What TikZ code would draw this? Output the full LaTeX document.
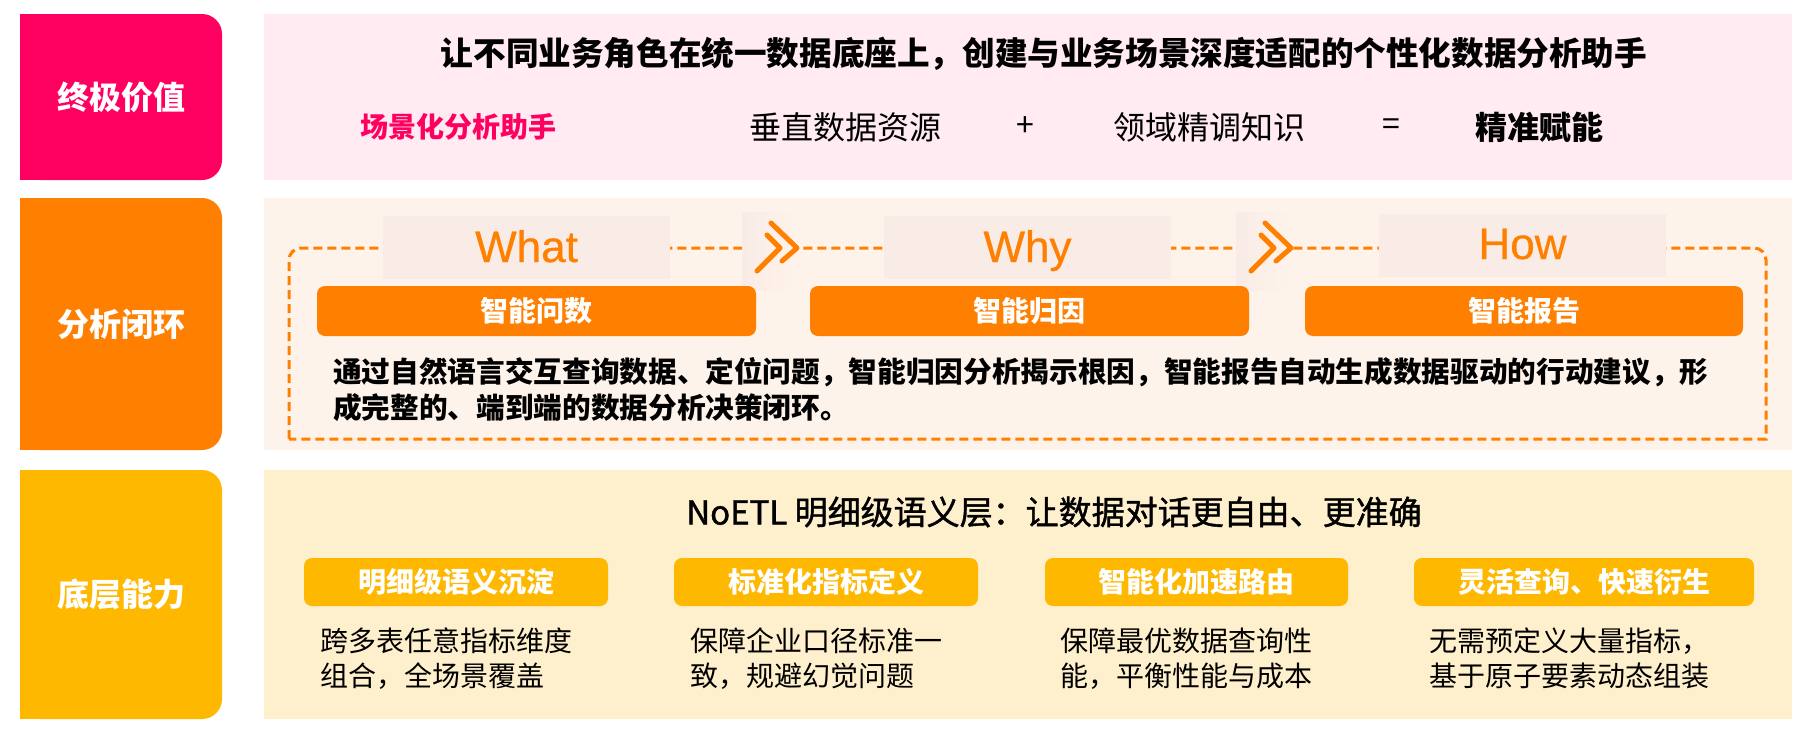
\documentclass[tikz,border=0pt]{standalone}
\usepackage{fontspec}
\setmainfont{Noto Sans CJK SC}
\newfontfamily\lat{Liberation Sans}
\newfontfamily\cjkmed[FakeBold=1.3]{Noto Sans CJK SC}
\newfontfamily\latmed[FakeBold=0.6]{Liberation Sans}
\definecolor{cPink}{HTML}{FF0060}
\definecolor{cPinkBg}{HTML}{FFEBF1}
\definecolor{cOrange}{HTML}{FF7F00}
\definecolor{cPeach}{HTML}{FEF3EA}
\definecolor{cLbl}{HTML}{F9ECE7}
\definecolor{cGold}{HTML}{FFB800}
\definecolor{cGoldBg}{HTML}{FFF0CD}
\tikzset{
  sidelbl/.style={inner sep=0pt, text=white, font=\fontsize{32}{38}\selectfont\bfseries},
  plain/.style={inner sep=0pt, font=\fontsize{32}{38}\selectfont},
  wlabel/.style={fill=cLbl, minimum width=287pt, minimum height=63pt, inner sep=0pt},
  wtext/.style={anchor=base, inner sep=0pt, text=cOrange, font=\latmed\fontsize{44}{50}\selectfont},
  chev/.style={cOrange, line width=5pt, line cap=round, line join=round},
  obar/.style={fill=cOrange, rounded corners=8pt, minimum width=439pt, minimum height=50pt, inner sep=0pt, text=white, font=\fontsize{28}{34}\selectfont\bfseries},
  gbox/.style={fill=cGold, rounded corners=8pt, minimum width=304pt, minimum height=48pt, inner sep=0pt, text=white, font=\fontsize{28}{34}\selectfont\bfseries},
  desc/.style={anchor=west, inner sep=0pt, font=\fontsize{28}{34}\selectfont},
  bdesc/.style={anchor=west, inner sep=0pt, font=\fontsize{28.65}{35}\selectfont\bfseries},
  frame/.style={cOrange, line width=3pt, dash pattern=on 9pt off 5pt}
}
\begin{document}
\begin{tikzpicture}[x=1pt,y=-1pt]
\useasboundingbox (0,0) rectangle (1806,736);
\fill[white] (0,0) rectangle (1806,736);

% ---------- left side boxes ----------
\fill[cPink, rounded corners=20pt] (20,14) rectangle (222,180);
\fill[cPink] (20,14) rectangle (120,180);
\node[sidelbl] (s1) at (121,97) {终极价值};

\fill[cOrange, rounded corners=20pt] (20,198) rectangle (222,450);
\fill[cOrange] (20,198) rectangle (120,450);
\node[sidelbl] (s2) at (121,324) {分析闭环};

\fill[cGold, rounded corners=20pt] (20,470) rectangle (222,719);
\fill[cGold] (20,470) rectangle (120,719);
\node[sidelbl] (s3) at (121,594.5) {底层能力};

% ---------- panels ----------
\fill[cPinkBg] (264,14) rectangle (1792,180);
\fill[cPeach] (264,198) rectangle (1792,450);
\fill[cGoldBg] (264,470) rectangle (1792,719);

% ---------- row 1 ----------
\node[inner sep=0pt, font=\fontsize{32.6}{40}\selectfont\bfseries] (t1) at (1044,54) {让不同业务角色在统一数据底座上，创建与业务场景深度适配的个性化数据分析助手};
\node[anchor=west, inner sep=0pt, text=cPink, font=\fontsize{28}{34}\selectfont\bfseries] (a1) at (360,127) {场景化分析助手};
\node[plain, anchor=west] (a2) at (749,127) {垂直数据资源};
\node[plain] (a3) at (1025,127) {+};
\node[plain, anchor=west] (a4) at (1113,127) {领域精调知识};
\node[plain] (a5) at (1391,127) {=};
\node[plain, anchor=west, font=\fontsize{32}{38}\selectfont\bfseries] (a6) at (1475,127) {精准赋能};

% ---------- row 2 ----------
\draw[frame] (289,439) -- (289,260) .. controls (289,253.4) and (294.4,248) .. (301,248)
  -- (1754,248) .. controls (1760.6,248) and (1766,253.4) .. (1766,260) -- (1766,439) -- cycle;

\node[wlabel] (lw) at (526.5,247.5) {};
\node[wlabel] (ly) at (1027.5,247.5) {};
\node[wlabel] (lh) at (1522.5,245.5) {};
\node[wtext] (what) at (526.5,262) {What};
\node[wtext] (why) at (1027.5,262) {Why};
\node[wtext] (how) at (1522.5,259) {How};

\shade[left color=cLbl, right color=cPeach] (742,212) rectangle (799,290);
\draw[chev] (771,223) -- (797,248) -- (782,261);
\draw[chev] (767,235) -- (780,248) -- (757,271);

\shade[left color=cLbl, right color=cPeach] (1236,212) rectangle (1293,290);
\draw[chev] (1265,223) -- (1291,248) -- (1276,261);
\draw[chev] (1261,235) -- (1274,248) -- (1251,271);

\node[obar] (b1) at (536.5,311) {智能问数};
\node[obar] (b2) at (1029.5,311) {智能归因};
\node[obar, minimum width=438pt] (b3) at (1524,311) {智能报告};

\node[bdesc] (d1) at (333,372) {通过自然语言交互查询数据、定位问题，智能归因分析揭示根因，智能报告自动生成数据驱动的行动建议，形};
\node[bdesc] (d2) at (333,408) {成完整的、端到端的数据分析决策闭环。};

% ---------- row 3 ----------
\node[inner sep=0pt, font=\cjkmed\fontsize{33}{40}\selectfont] (t3) at (1054,512) {NoETL 明细级语义层：让数据对话更自由、更准确};

\node[gbox] (g1) at (456,582) {明细级语义沉淀};
\node[gbox] (g2) at (826,582) {标准化指标定义};
\node[gbox, minimum width=303pt] (g3) at (1196.5,582) {智能化加速路由};
\node[gbox, minimum width=340pt] (g4) at (1584,582) {灵活查询、快速衍生};

\node[desc] (e1a) at (320,641) {跨多表任意指标维度};
\node[desc] (e1b) at (320,676) {组合，全场景覆盖};
\node[desc] (e2a) at (690,641) {保障企业口径标准一};
\node[desc] (e2b) at (690,676) {致，规避幻觉问题};
\node[desc] (e3a) at (1060,641) {保障最优数据查询性};
\node[desc] (e3b) at (1060,676) {能，平衡性能与成本};
\node[desc] (e4a) at (1429,641) {无需预定义大量指标，};
\node[desc] (e4b) at (1429,676) {基于原子要素动态组装};
\end{tikzpicture}
\end{document}
